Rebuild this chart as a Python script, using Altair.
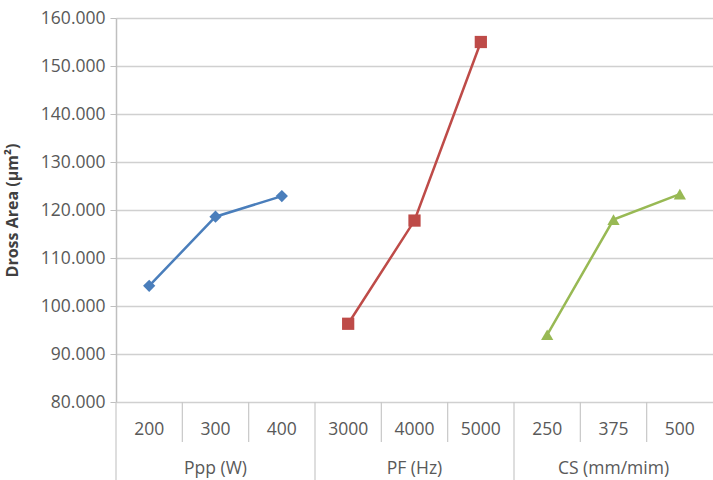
import altair as alt
import pandas as pd

groups = ["Ppp (W)", "PF (Hz)", "CS (mm/mim)"]
levels = ["200", "300", "400", "3000", "4000", "5000", "250", "375", "500"]
values = [104.2, 118.6, 122.9, 96.3, 117.8, 155.0, 94.0, 118.0, 123.3]
colors = ["#4a7ebb", "#be4b48", "#98b954"]
shapes = ["diamond", "square", "triangle-up"]

FONT = "Open Sans"
W, H = 597, 384

rows = []
for i, (lev, v) in enumerate(zip(levels, values)):
    rows.append({"pos": i + 0.5, "level": lev, "value": v, "group": groups[i // 3]})
df = pd.DataFrame(rows)

grp_df = pd.DataFrame({"group": groups, "pos": [1.5, 4.5, 7.5]})
minor_df = pd.DataFrame({"pos": [1, 2, 4, 5, 7, 8]})
major_df = pd.DataFrame({"pos": [0, 3, 6]})

xscale = alt.Scale(domain=[0, 9], nice=False, zero=False)
yscale = alt.Scale(domain=[80, 160], nice=False, zero=False)
cscale = alt.Scale(domain=groups, range=colors)
sscale = alt.Scale(domain=groups, range=shapes)

X = alt.X("pos:Q", scale=xscale, axis=None)

lines = alt.Chart(df).mark_line(strokeWidth=2.5).encode(
    x=X,
    y=alt.Y(
        "value:Q",
        scale=yscale,
        axis=alt.Axis(
            values=[80, 90, 100, 110, 120, 130, 140, 150, 160],
            format=".3f",
            title="Dross Area (µm²)",
            titleFont=FONT,
            titleFontSize=16,
            titleFontWeight="bold",
            titleColor="#404040",
            titleX=-96,
            labelFont=FONT,
            labelFontSize=17.5,
            labelColor="#595959",
            labelPadding=5,
            tickSize=6,
            tickColor="#bfbfbf",
            domainColor="#bfbfbf",
            domainWidth=1.5,
            gridColor="#d0d0d0",
            gridWidth=1.5,
        ),
    ),
    color=alt.Color("group:N", scale=cscale, legend=None),
    detail="group:N",
)

points = alt.Chart(df).mark_point(filled=True, size=150, opacity=1).encode(
    x=X,
    y=alt.Y("value:Q", scale=yscale),
    color=alt.Color("group:N", scale=cscale, legend=None),
    shape=alt.Shape("group:N", scale=sscale, legend=None),
)

minor_rules = alt.Chart(minor_df).mark_rule(color="#c8c8c8", strokeWidth=1.2).encode(
    x=X, y=alt.value(H), y2=alt.value(H + 40)
)
major_rules = alt.Chart(major_df).mark_rule(color="#c8c8c8", strokeWidth=1.2).encode(
    x=X, y=alt.value(H), y2=alt.value(H + 78)
)

cat_text = alt.Chart(df).mark_text(
    font=FONT, fontSize=17.5, color="#595959", baseline="middle", align="center"
).encode(x=X, y=alt.value(H + 28), text="level:N")

grp_text = alt.Chart(grp_df).mark_text(
    font=FONT, fontSize=17.5, color="#595959", baseline="middle", align="center"
).encode(x=X, y=alt.value(H + 67), text="group:N")

chart = alt.layer(
    lines, minor_rules, major_rules, cat_text, grp_text, points
).properties(
    width=W,
    height=H,
    autosize=alt.AutoSizeParams(type="none"),
    padding={"left": 116, "top": 18, "right": 0, "bottom": 78},
    background="white",
).configure_view(stroke=None)

chart.save("out.html", embed_options={"renderer": "svg", "actions": False})
